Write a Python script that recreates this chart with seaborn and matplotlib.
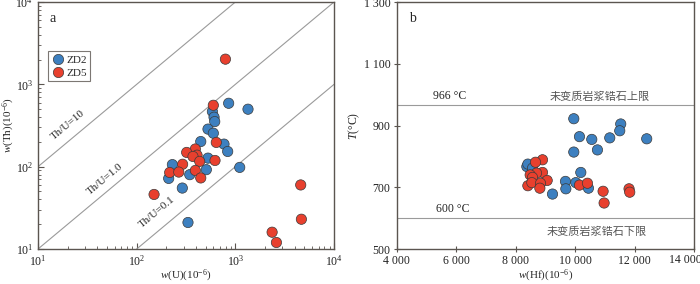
import numpy as np
import pandas as pd
import matplotlib
matplotlib.use('Agg')
import matplotlib.pyplot as plt
import matplotlib.ticker as mticker
import seaborn as sns

# --- data ---
zd2_u = [855, 1343, 585, 608, 618, 528, 598, 446, 767, 836, 528, 230, 508, 345, 211, 290, 1107, 331]
zd2_th = [589, 499, 467, 399, 353, 286, 255, 202, 188, 153, 127, 106, 92, 80, 72, 55, 98, 21]
zd5_u = [793, 598, 641, 393, 321, 409, 372, 435, 622, 292, 216, 267, 393, 446, 150, 4595, 4668, 2357, 2607]
zd5_th = [2023, 557, 197, 164, 149, 138, 133, 116, 119, 107, 85, 86, 90, 73, 46, 60, 23, 16, 12]

zd2_hf = [9957, 11536, 11503, 10148, 10562, 11167, 12410, 10753, 9957, 10193, 8378, 8412, 8569,
          9677, 9690, 10025, 10450, 9241]
zd2_t = [922, 905, 883, 864, 855, 860, 857, 821, 814, 748, 767, 775, 762, 719, 695, 715, 697, 678]
zd5_hf = [8905, 8670, 8905, 8703, 8490, 8569, 9062, 8412, 8546, 8838, 8816, 10148, 10417,
          10943, 10977, 11816, 11839]
zd5_t = [789, 781, 748, 746, 740, 732, 722, 705, 715, 713, 697, 707, 713, 687, 649, 695, 684]

ratios = [10, 1.0, 0.1]
ratio_labels = ['Th/U=10', 'Th/U=1.0', 'Th/U=0.1']
t_upper, t_lower = 966, 600
hf_ticks = list(range(4000, 14001, 2000))
t_ticks = list(range(500, 1301, 200))

sns.set_style('ticks')
plt.rcParams['font.family'] = ['Liberation Serif', 'Noto Sans CJK SC']
plt.rcParams['mathtext.fontset'] = 'custom'
plt.rcParams['mathtext.rm'] = 'Liberation Serif'
plt.rcParams['mathtext.it'] = 'Liberation Serif:italic'

spine_col = '#5b5550'
blue = '#3d80c0'
red = '#e8402e'
edge = '#3a3a3a'

df_a = pd.DataFrame({'U': zd2_u + zd5_u, 'Th': zd2_th + zd5_th,
                     'sample': ['ZD2'] * len(zd2_u) + ['ZD5'] * len(zd5_u)})
df_b = pd.DataFrame({'Hf': zd2_hf + zd5_hf, 'T': zd2_t + zd5_t,
                     'sample': ['ZD2'] * len(zd2_hf) + ['ZD5'] * len(zd5_hf)})
pal = {'ZD2': blue, 'ZD5': red}

fig = plt.figure(figsize=(7, 2.84), dpi=100)
ax1 = fig.add_axes([0.0543, 0.1232, 0.4229, 0.8697])
ax2 = fig.add_axes([0.5667, 0.1232, 0.4247, 0.8697])

# ---- panel a ----
xs = np.array([10, 1e4])
for r in ratios:
    ax1.plot(xs, xs * r, color='#9a9a9a', lw=0.8, zorder=1)
sns.scatterplot(data=df_a, x='U', y='Th', hue='sample', palette=pal, s=55,
                edgecolor=edge, linewidth=0.5, ax=ax1, zorder=3)
ax1.set_xscale('log')
ax1.set_yscale('log')
ax1.set_xlim(10, 1e4)
ax1.set_ylim(10, 1e4)
ax1.xaxis.set_major_locator(mticker.LogLocator(base=10))
ax1.yaxis.set_major_locator(mticker.LogLocator(base=10))
ax1.xaxis.set_minor_locator(mticker.LogLocator(base=10, subs=np.arange(2, 10)))
ax1.yaxis.set_minor_locator(mticker.LogLocator(base=10, subs=np.arange(2, 10)))
ax1.xaxis.set_minor_formatter(mticker.NullFormatter())
ax1.yaxis.set_minor_formatter(mticker.NullFormatter())

rot = 39.8
ax1.text(20, 320, ratio_labels[0], rotation=rot, ha='center', va='center', fontsize=8)
ax1.text(47.7, 70, ratio_labels[1], rotation=rot, ha='center', va='center', fontsize=8)
ax1.text(161, 28, ratio_labels[2], rotation=rot, ha='center', va='center', fontsize=8)
ax1.text(0.04, 0.96, 'a', transform=ax1.transAxes, fontsize=10, va='top')
ax1.set_xlabel(r'$\mathit{w}$(U)(10$^{-6}$)', fontsize=8)
ax1.set_ylabel(r'$\mathit{w}$(Th)(10$^{-6}$)', fontsize=8)
ax1.xaxis.set_label_coords(0.5, -0.076)
ax1.yaxis.set_label_coords(-0.072, 0.5)

leg = ax1.legend(loc='upper left', bbox_to_anchor=(0.035, 0.8), fontsize=8,
                 frameon=True, fancybox=False, handletextpad=0.1, borderpad=0.3,
                 labelspacing=0.3, handlelength=1.2, borderaxespad=0)
leg.get_frame().set_edgecolor(spine_col)
leg.get_frame().set_linewidth(0.8)

# ---- panel b ----
ax2.axhline(t_upper, color='#9a9a9a', lw=0.8, zorder=1)
ax2.axhline(t_lower, color='#9a9a9a', lw=0.8, zorder=1)
sns.scatterplot(data=df_b, x='Hf', y='T', hue='sample', palette=pal, s=55,
                edgecolor=edge, linewidth=0.5, ax=ax2, zorder=3, legend=False)
ax2.set_xlim(4000, 14000)
ax2.set_ylim(500, 1300)
ax2.set_xticks(hf_ticks)
ax2.set_yticks(t_ticks)


def spaced(v, p=None):
    return f'{int(v):,}'.replace(',', ' ')


# the last Hf label sits a little left of its tick, as in the original
ax2.xaxis.set_major_formatter(mticker.FuncFormatter(
    lambda v, p: '' if v == hf_ticks[-1] else spaced(v)))
ax2.yaxis.set_major_formatter(mticker.FuncFormatter(spaced))
ax2.annotate(spaced(hf_ticks[-1]), xy=(hf_ticks[-1], 500), xycoords='data',
             xytext=(-9, -5), textcoords='offset pixels', ha='center', va='top',
             fontsize=8.5, color='#222222', annotation_clip=False)

ax2.text(5790, 975, f'{t_upper} °C', ha='center', va='bottom', fontsize=8.5)
ax2.text(10830, 975, '未变质岩浆锆石上限', ha='center', va='bottom', fontsize=8,
         color='#555555', family=['Noto Sans CJK SC'])
ax2.text(5880, 609, f'{t_lower} °C', ha='center', va='bottom', fontsize=8.5)
ax2.text(10720, 555, '未变质岩浆锆石下限', ha='center', va='center', fontsize=8,
         color='#555555', family=['Noto Sans CJK SC'])
ax2.text(0.04, 0.96, 'b', transform=ax2.transAxes, fontsize=10, va='top')
ax2.set_xlabel(r'$\mathit{w}$(Hf)(10$^{-6}$)', fontsize=8)
ax2.set_ylabel(r'$\mathit{T}$(°C)', fontsize=8.5)
ax2.xaxis.set_label_coords(0.5, -0.076)
ax2.yaxis.set_label_coords(-0.117, 0.5)

for ax in (ax1, ax2):
    for sp in ax.spines.values():
        sp.set_visible(True)
        sp.set_color(spine_col)
        sp.set_linewidth(1.0)
    ax.tick_params(which='both', direction='in', colors=spine_col, labelcolor='#222222',
                   labelsize=8.5, top=False, right=False)
    ax.tick_params(which='major', length=4, width=0.8)
    ax.tick_params(which='minor', length=2, width=0.6)
    ax.set_facecolor('white')
ax2.tick_params(which='major', direction='inout', length=5, pad=2)

fig.savefig('out.png', dpi=100, facecolor='white')
